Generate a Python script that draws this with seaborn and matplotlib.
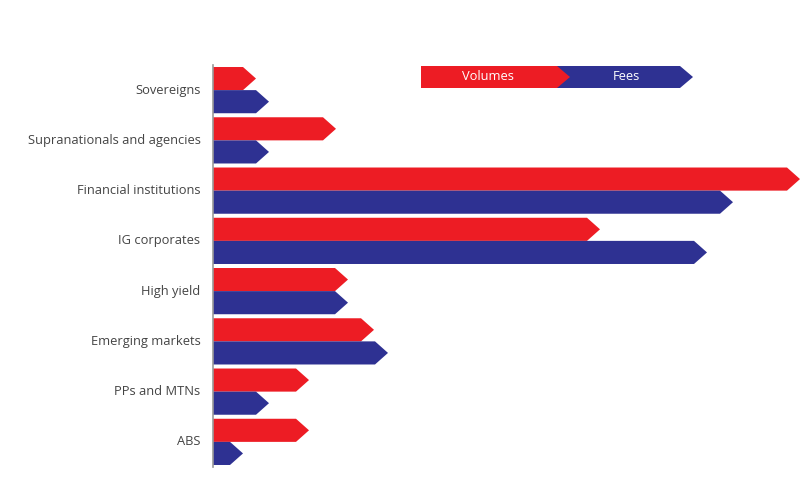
import pandas as pd
import seaborn as sns
import numpy as np
import matplotlib.pyplot as plt
from matplotlib.patches import Polygon

# bar lengths (relative units, arrow tip included)
categories = ["Sovereigns", "Supranationals and agencies", "Financial institutions",
              "IG corporates", "High yield", "Emerging markets", "PPs and MTNs", "ABS"]
volumes = [43, 123, 587, 387, 135, 161, 96, 96]
fees = [56, 56, 520, 494, 135, 175, 56, 30]
series = ["Volumes", "Fees"]

red = "#ED1C24"
blue = "#2E3192"

df = pd.DataFrame({
    "category": categories * 2,
    "series": ["Volumes"] * len(categories) + ["Fees"] * len(categories),
    "value": volumes + fees,
})

sns.set_style("white")
plt.rcParams["font.family"] = ["Open Sans", "DejaVu Sans"]

fig = plt.figure(figsize=(8, 4.83), dpi=100)
ax = fig.add_axes([213 / 800, 16 / 483, 587 / 800, 402 / 483])

sns.barplot(data=df, y="category", x="value", hue="series", hue_order=series,
            palette=[red, blue], orient="h", width=0.92, saturation=1,
            dodge=True, legend=False, ax=ax)

# turn every bar into an arrow (pentagon)
tip = 13
for p in list(ax.patches):
    x, y = p.get_x(), p.get_y()
    w, h = p.get_width(), p.get_height()
    if w <= 0:
        continue
    fc = p.get_facecolor()
    p.remove()
    pts = [(x, y), (x + w - tip, y), (x + w, y + h / 2), (x + w - tip, y + h), (x, y + h)]
    ax.add_patch(Polygon(pts, closed=True, facecolor=fc, edgecolor="none", zorder=2))

ax.set_xlim(0, 587)
ax.set_ylim(len(categories) - 0.5, -0.5)
ax.set_xlabel("")
ax.set_ylabel("")
ax.set_xticks([])
ax.tick_params(axis="y", length=0, pad=9, labelsize=9.3, labelcolor="#444444")
for lbl in ax.get_yticklabels():
    lbl.set_verticalalignment("center")
for s in ["top", "right", "bottom"]:
    ax.spines[s].set_visible(False)
ax.spines["left"].set_color("#999999")
ax.spines["left"].set_linewidth(1.2)
ax.spines["left"].set_zorder(3)

# arrow legend at the top
def fx(px):
    return px / 800

def fy(py):
    return 1 - py / 483

top, bot = 66, 88
mid = (top + bot) / 2
blue_pts = [(553, top), (680, top), (693, mid), (680, bot), (553, bot)]
red_pts = [(421, top), (557, top), (570, mid), (557, bot), (421, bot)]
for pts, col in [(blue_pts, blue), (red_pts, red)]:
    fig.add_artist(Polygon([(fx(a), fy(b)) for a, b in pts], closed=True,
                           facecolor=col, edgecolor="none", transform=fig.transFigure))
fig.text(fx(488), fy(mid), "Volumes", color="white", fontsize=9.3, ha="center", va="center")
fig.text(fx(626), fy(mid), "Fees", color="white", fontsize=9.3, ha="center", va="center")

fig.savefig("out.png", dpi=100)
